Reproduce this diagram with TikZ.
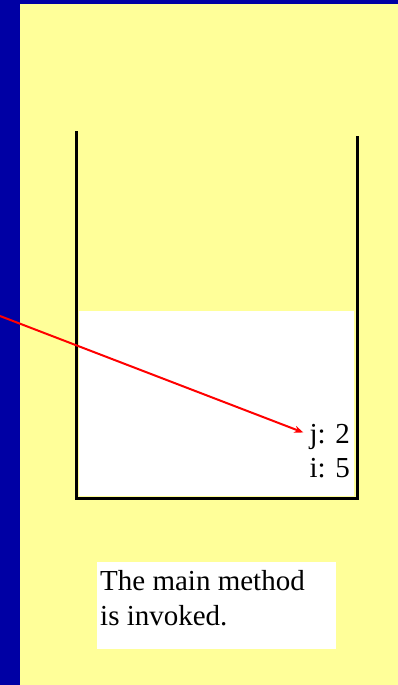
\documentclass[tikz,border=0pt]{standalone}
\usepackage{fontspec}
\setmainfont{Liberation Serif}
\usetikzlibrary{arrows.meta,positioning}
\definecolor{slideblue}{RGB}{0,0,164}
\definecolor{slideyellow}{RGB}{255,255,153}

\begin{document}
\begin{tikzpicture}[
    x=1pt, y=-1pt,
    wall/.style={line width=3pt, black},
    val/.style={inner sep=0pt, anchor=base east, font=\fontsize{29}{34}\selectfont},
    note/.style={inner sep=0pt, align=left, font=\fontsize{29}{35}\selectfont},
    arr/.style={-{Stealth[length=9pt, width=7pt]}, line width=2pt, red}
]
% background
\fill[slideyellow] (0,0) rectangle (398,685);
\fill[slideblue] (0,0) rectangle (20,685);
\fill[slideblue] (0,0) rectangle (398,4);
\useasboundingbox (0,0) rectangle (398,685);

% stack
\fill[white] (79,311) rectangle (354,496);
\draw[wall] (76,131) -- (76,498.5) -- (357,498.5) -- (357,136);

\node[val] (jval) at (350,443) {j: 2};
\node[val] (ival) at (350,477) {i: 5};

% note
\fill[white] (97,562) rectangle (336,649);
\node[note, anchor=base west] (msg) at (100,625) {The main method\\is invoked.};

\coordinate (ref) at (0,316);
\draw[arr] (ref) -- ([xshift=-6pt, yshift=4pt]jval.west);
\end{tikzpicture}
\end{document}
